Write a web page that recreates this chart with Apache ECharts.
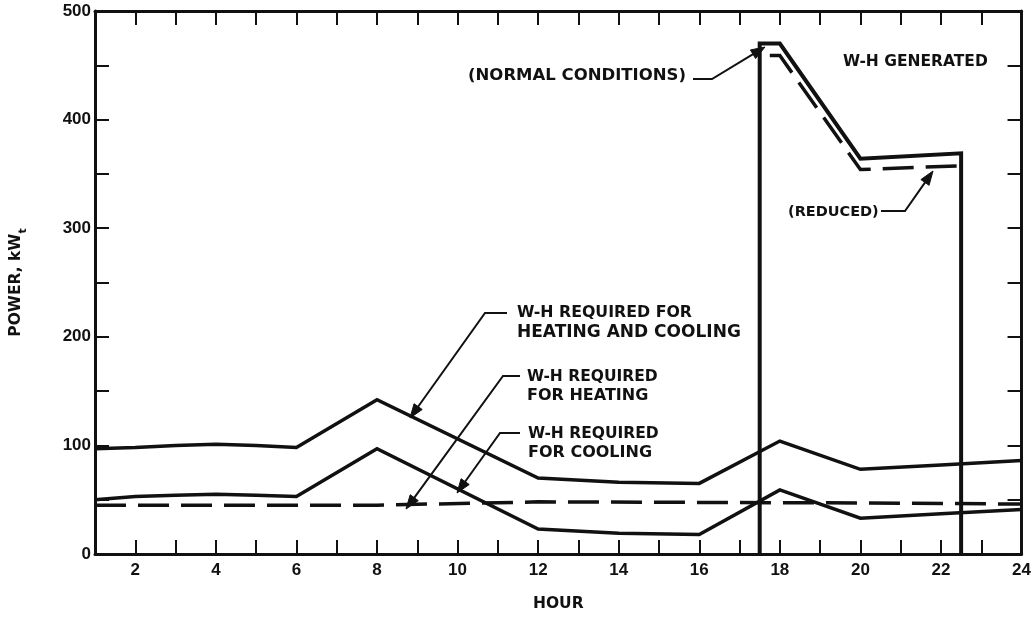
<!DOCTYPE html>
<html>
<head>
<meta charset="utf-8">
<script src="https://cdn.jsdelivr.net/npm/echarts@6/dist/echarts.min.js"></script>
<style>
html,body{margin:0;padding:0;background:#fff;}
#chart{width:1034px;height:617px;}
</style>
</head>
<body>
<div id="chart"></div>
<script>
// ---- data ----
const hours            = [1, 2, 3, 4, 5, 6, 8, 12, 14, 16, 18, 20, 22, 24];
const heatingCoolingKW = [97, 98, 100, 101, 100, 98, 142, 70, 66, 65, 104, 78, 82, 86];
const coolingKW        = [50, 53, 54, 55, 54, 53, 97, 23, 19, 18, 59, 33, 37, 41];
const heatingHours     = [1, 8, 12, 16, 20, 24];
const heatingKW        = [45, 45, 48, 47.5, 47, 46];
const generatedHours   = [17.5, 17.5, 18, 20, 22.5, 22.5];
const generatedKW      = [0, 470, 470, 364, 369, 0];
const reducedHours     = [17.75, 18, 20, 22.5];
const reducedKW        = [459, 459, 354, 357.5];
const xTickLabels      = [2, 4, 6, 8, 10, 12, 14, 16, 18, 20, 22, 24];
const yTickLabels      = [0, 100, 200, 300, 400, 500];

const zip = (xs, ys) => xs.map((x, i) => [x, ys[i]]);
const INK = '#111';
const FONT = '"DejaVu Sans", sans-serif';
const TICKFONT = '"Liberation Sans", Arial, sans-serif';

const chart = echarts.init(document.getElementById('chart'));

const lineStyle = (dash, w) => ({color: INK, width: w || 3.5, type: dash ? [31, 12] : 'solid', cap: 'butt', join: 'miter'});
const mk = (name, data, dash, w) => ({
  name, type: 'line', data, symbol: 'none', showSymbol: false,
  lineStyle: lineStyle(dash, w), itemStyle: {color: INK}, silent: true, z: 3
});

// annotation helpers (pixel layout)
function leader(points) {
  const n = points.length;
  const [x1, y1] = points[n - 2], [x2, y2] = points[n - 1];
  const a = Math.atan2(y2 - y1, x2 - x1);
  const L = 14, W = 5;
  const bx = x2 - L * Math.cos(a), by = y2 - L * Math.sin(a);
  const p1 = [bx + W * Math.sin(a), by - W * Math.cos(a)];
  const p2 = [bx - W * Math.sin(a), by + W * Math.cos(a)];
  const shaft = points.slice(0, n - 1).concat([[bx + 2 * Math.cos(a), by + 2 * Math.sin(a)]]);
  return [
    {type: 'polyline', shape: {points: shaft}, style: {stroke: INK, lineWidth: 2, fill: null}, z: 10},
    {type: 'polygon', shape: {points: [[x2, y2], p1, p2]}, style: {fill: INK, stroke: INK, lineWidth: 1}, z: 10}
  ];
}
function txt(x, y, text, size) {
  return {type: 'text', x: x, y: y, z: 10,
    style: {text, fill: INK, font: 'bold ' + (size || 16) + 'px ' + FONT, textVerticalAlign: 'middle', textAlign: 'left'}};
}

const graphics = [].concat(
  txt(468, 76, '(NORMAL CONDITIONS)', 16.5),
  leader([[693, 79], [712, 79], [765, 47]]),
  txt(843, 62, 'W-H GENERATED', 15.5),
  txt(788, 212, '(REDUCED)', 14.5),
  leader([[881, 211], [905, 211], [933, 171]]),
  txt(517, 313, 'W-H REQUIRED FOR', 15.8),
  txt(517, 333, 'HEATING AND COOLING', 17),
  leader([[507, 313], [485, 313], [410, 418]]),
  txt(527, 377, 'W-H REQUIRED', 15.5),
  txt(527, 396, 'FOR HEATING', 16),
  leader([[520, 376], [503, 376], [406, 509]]),
  txt(528, 434, 'W-H REQUIRED', 15.5),
  txt(528, 453, 'FOR COOLING', 16),
  leader([[520, 433], [500, 433], [457, 493]])
);

const axisLine = {show: true, onZero: false, lineStyle: {color: INK, width: 3}};
const tick = {show: true, inside: true, length: 14, lineStyle: {color: INK, width: 2}};

chart.setOption({
  animation: false,
  backgroundColor: '#fff',
  grid: {left: 92, right: 4, top: 11, bottom: 55, containLabel: false},
  xAxis: [{
    type: 'value', min: 1, max: 24, interval: 1, position: 'bottom',
    axisLine, axisTick: tick, splitLine: {show: false},
    axisLabel: {margin: 8, color: INK, fontFamily: TICKFONT, fontWeight: 'bold', fontSize: 17,
      formatter: v => xTickLabels.includes(v) ? String(v) : ''},
    name: 'HOUR', nameLocation: 'middle', nameGap: 42,
    nameTextStyle: {color: INK, fontFamily: FONT, fontWeight: 'bold', fontSize: 15.5}
  }, {
    type: 'value', min: 1, max: 24, interval: 1, position: 'top',
    axisLine, axisTick: tick, axisLabel: {show: false}, splitLine: {show: false}
  }],
  yAxis: [{
    type: 'value', min: 0, max: 500, interval: 50, position: 'left',
    axisLine, axisTick: tick, splitLine: {show: false},
    axisLabel: {margin: 4, color: INK, fontFamily: TICKFONT, fontWeight: 'bold', fontSize: 17,
      formatter: v => yTickLabels.includes(v) ? String(v) : ''},
    name: '{a|POWER, kW}{s|t}', nameLocation: 'middle', nameGap: 66, nameRotate: 90,
    nameTextStyle: {color: INK, rich: {
      a: {fontFamily: FONT, fontWeight: 'bold', fontSize: 15.5, lineHeight: 26, color: INK},
      s: {fontFamily: FONT, fontWeight: 'bold', fontSize: 11, lineHeight: 26, verticalAlign: 'bottom', color: INK}
    }}
  }, {
    type: 'value', min: 0, max: 500, interval: 50, position: 'right',
    axisLine, axisTick: tick, axisLabel: {show: false}, splitLine: {show: false}
  }],
  series: [
    mk('W-H required for heating and cooling', zip(hours, heatingCoolingKW), false),
    mk('W-H required for cooling', zip(hours, coolingKW), false),
    mk('W-H required for heating', zip(heatingHours, heatingKW), true),
    mk('W-H generated (normal conditions)', zip(generatedHours, generatedKW), false, 4),
    mk('W-H generated (reduced)', zip(reducedHours, reducedKW), true)
  ],
  graphic: graphics
});
</script>
</body>
</html>
